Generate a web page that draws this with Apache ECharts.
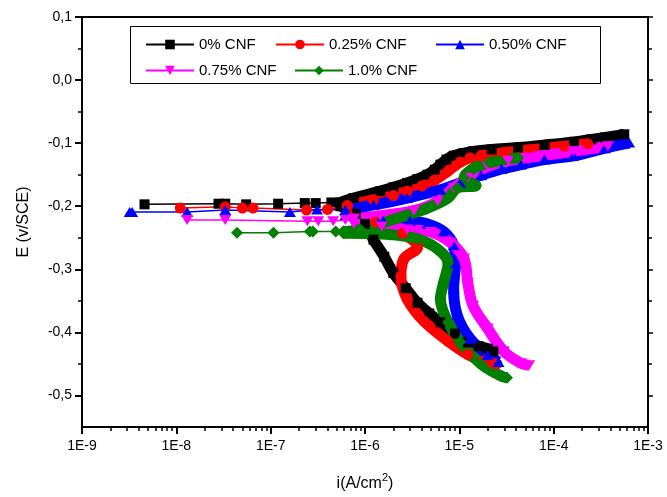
<!DOCTYPE html>
<html>
<head>
<meta charset="utf-8">
<script src="https://cdn.jsdelivr.net/npm/echarts@6/dist/echarts.min.js"></script>
<style>html,body{margin:0;padding:0;background:#fff;}#c{width:667px;height:497px;}</style>
</head>
<body>
<div id="c"></div>
<script>
// ---- data: [current density (A/cm2), potential (V/SCE)] ----
const seriesNames = ['0% CNF', '0.25% CNF', '0.50% CNF', '0.75% CNF', '1.0% CNF'];
const seriesColors = ['#000000', '#ff0000', '#0000ff', '#ff00ff', '#008000'];

const cnf0Flat = [[4.6e-9,-0.197],[2.8e-8,-0.196],[3.3e-8,-0.196],[5.5e-8,-0.197],[1.2e-7,-0.196],[2.3e-7,-0.195],[3.0e-7,-0.195],[4.4e-7,-0.194],[5.5e-7,-0.194]];
const cnf0Anodic = [[5.5e-7,-0.194],[7.6e-7,-0.187],[1.45e-6,-0.176],[2.0e-6,-0.17],[2.8e-6,-0.163],[3.6e-6,-0.157],[4.6e-6,-0.15],[5.5e-6,-0.142],[6.3e-6,-0.134],[7.3e-6,-0.126],[8.7e-6,-0.12],[1.1e-5,-0.116],[1.4e-5,-0.113],[2.2e-5,-0.11],[4.2e-5,-0.107],[8e-5,-0.103],[1.64e-4,-0.098],[2.5e-4,-0.094],[3.5e-4,-0.091],[5.6e-4,-0.086]];
const cnf0Cathodic = [[5.5e-7,-0.2],[8e-7,-0.212],[1.0e-6,-0.228],[1.23e-6,-0.253],[1.6e-6,-0.28],[2.0e-6,-0.306],[2.7e-6,-0.33],[3.6e-6,-0.353],[4.8e-6,-0.37],[6.3e-6,-0.384],[9e-6,-0.402],[1.23e-5,-0.416],[1.6e-5,-0.422],[2.0e-5,-0.426],[2.3e-5,-0.43]];

const cnf025Flat = [[1.1e-8,-0.203],[3.3e-8,-0.201],[5.0e-8,-0.203],[6.5e-8,-0.203],[2.4e-7,-0.206],[4.0e-7,-0.205],[6.5e-7,-0.2]];
const cnf025Anodic = [[6.5e-7,-0.199],[1.23e-6,-0.19],[2.0e-6,-0.183],[2.8e-6,-0.176],[4.0e-6,-0.168],[5.4e-6,-0.159],[7.6e-6,-0.144],[1.02e-5,-0.13],[1.3e-5,-0.123],[1.7e-5,-0.12],[3.0e-5,-0.115],[5.4e-5,-0.111],[1.3e-4,-0.105],[2.3e-4,-0.101]];
const cnf025Cathodic = [[6.5e-7,-0.212],[1.3e-6,-0.225],[2.5e-6,-0.243],[3.6e-6,-0.265],[2.6e-6,-0.283],[2.4e-6,-0.311],[2.8e-6,-0.347],[4.2e-6,-0.382],[7.6e-6,-0.414],[1.23e-5,-0.435],[1.8e-5,-0.445],[2.3e-5,-0.449],[2.5e-5,-0.45]];

const cnf050Flat = [[3.2e-9,-0.209],[3.4e-9,-0.209],[1.3e-8,-0.209],[3.3e-8,-0.206],[1.6e-7,-0.209],[3.1e-7,-0.205],[6.2e-7,-0.206]];
const cnf050Anodic = [[6.2e-7,-0.206],[1.23e-6,-0.198],[2.8e-6,-0.187],[6.3e-6,-0.174],[1.02e-5,-0.163],[1.7e-5,-0.151],[2.8e-5,-0.141],[4.5e-5,-0.134],[8e-5,-0.126],[1.62e-4,-0.12],[3.5e-4,-0.108],[5.6e-4,-0.101],[6.3e-4,-0.099]];
const cnf050Cathodic = [[6.2e-7,-0.214],[1.5e-6,-0.219],[3.0e-6,-0.223],[4.6e-6,-0.228],[6.8e-6,-0.24],[8.7e-6,-0.262],[9.1e-6,-0.29],[8.7e-6,-0.331],[9.5e-6,-0.373],[1.3e-5,-0.41],[2.0e-5,-0.436],[2.6e-5,-0.447]];

const cnf075Flat = [[1.3e-8,-0.222],[3.3e-8,-0.222],[2.45e-7,-0.224],[3.2e-7,-0.224],[4.6e-7,-0.224],[6.2e-7,-0.222],[7.6e-7,-0.22]];
const cnf075Anodic = [[7.6e-7,-0.22],[1.45e-6,-0.215],[3.3e-6,-0.207],[5.9e-6,-0.192],[8.7e-6,-0.171],[1.23e-5,-0.155],[2.0e-5,-0.137],[3.3e-5,-0.128],[5.4e-5,-0.123],[1.62e-4,-0.113],[3.76e-4,-0.105]];
const cnf075Cathodic = [[7.6e-7,-0.228],[1.5e-6,-0.232],[2.8e-6,-0.237],[5.0e-6,-0.241],[8.1e-6,-0.258],[1.12e-5,-0.283],[1.23e-5,-0.322],[1.4e-5,-0.358],[2.0e-5,-0.394],[2.95e-5,-0.43],[4.5e-5,-0.449],[5.5e-5,-0.452]];

const cnf10Flat = [[4.4e-8,-0.242],[1.07e-7,-0.242],[2.6e-7,-0.24],[2.8e-7,-0.24],[4.9e-7,-0.24],[5.9e-7,-0.24]];
const cnf10Anodic = [[5.9e-7,-0.24],[8.9e-7,-0.237],[2.2e-6,-0.219],[4.6e-6,-0.203],[7.6e-6,-0.187],[9.5e-6,-0.171],[1.5e-5,-0.167],[1.12e-5,-0.155],[1.4e-5,-0.14],[2.1e-5,-0.131],[4.2e-5,-0.123]];
const cnf10Cathodic = [[5.9e-7,-0.243],[1.86e-6,-0.245],[3.6e-6,-0.252],[5.9e-6,-0.268],[7.6e-6,-0.29],[6.8e-6,-0.322],[6.3e-6,-0.347],[7.6e-6,-0.384],[1.02e-5,-0.415],[1.7e-5,-0.45],[2.75e-5,-0.469],[3.2e-5,-0.472]];

// ---- axis ticks ----
const xMin = 1e-9, xMax = 1e-3;
const xDecades = [-9, -8, -7, -6, -5, -4, -3];
const yMin = -0.55, yMax = 0.1;
const yMajorTicks = [-0.5, -0.4, -0.3, -0.2, -0.1, 0.0, 0.1];
const yMinorTicks = [-0.45, -0.35, -0.25, -0.15, -0.05, 0.05];

const groups = [
  [cnf0Flat, cnf0Cathodic, cnf0Anodic],
  [cnf025Flat, cnf025Cathodic, cnf025Anodic],
  [cnf050Flat, cnf050Cathodic, cnf050Anodic],
  [cnf075Flat, cnf075Cathodic, cnf075Anodic],
  [cnf10Flat, cnf10Cathodic, cnf10Anodic]
];
const symbols = ['rect', 'circle', 'triangle', 'triangle', 'diamond'];
const symbolRot = [0, 0, 0, 180, 0];
const symSize = [10, 11, [12, 10], [12, 10], [12, 12]];

const xMinorTicks = [];
for (let d = xDecades[0]; d < xDecades[xDecades.length - 1]; d++) for (let k = 2; k <= 9; k++) xMinorTicks.push(d + Math.log10(k));

const FONT = 'Liberation Sans, Arial, sans-serif';

const series = [];
groups.forEach((g, gi) => {
  g.forEach((arr, k) => {
    const band = k > 0;
    series.push({
      name: seriesNames[gi],
      type: 'line',
      xAxisIndex: 0,
      yAxisIndex: 0,
      data: arr,
      symbol: symbols[gi],
      symbolRotate: symbolRot[gi],
      symbolSize: symSize[gi],
      showSymbol: true,
      smooth: band ? 0.35 : false,
      lineStyle: { color: seriesColors[gi], width: band ? 11 : 1.5 },
      itemStyle: { color: seriesColors[gi] },
      emphasis: { disabled: true },
      animation: false,
      clip: true
    });
  });
});

const legendPos = [[145, 37], [275, 37], [435, 37], [145, 63], [294, 63]];
const legends = seriesNames.map((n, i) => ({
  data: [n],
  left: legendPos[i][0],
  top: legendPos[i][1],
  padding: 0,
  itemWidth: 48,
  itemHeight: 12,
  itemGap: 0,
  selectedMode: false,
  textStyle: { fontSize: 15, color: '#000', fontFamily: FONT }
}));

const chart = echarts.init(document.getElementById('c'), null, { renderer: 'canvas' });
chart.setOption({
  backgroundColor: '#fff',
  animation: false,
  grid: { left: 82, right: 19, top: 17, bottom: 64, containLabel: false },
  legend: legends,
  graphic: [{
    type: 'rect', left: 128, top: 24,
    shape: { width: 470, height: 57 },
    style: { fill: 'none', stroke: '#000', lineWidth: 1 }, z: 100
  }],
  xAxis: [
    {
      type: 'log', logBase: 10, min: xMin, max: xMax, interval: 1,
      position: 'bottom',
      name: '{a|i(A/cm}{s|2}{a|)}',
      nameLocation: 'middle', nameGap: 45,
      nameTextStyle: {
        rich: {
          a: { fontSize: 16, fontFamily: FONT, color: '#000', verticalAlign: 'bottom', lineHeight: 20 },
          s: { fontSize: 11, fontFamily: FONT, color: '#000', verticalAlign: 'top', lineHeight: 20, padding: [0, 0, 6, 0] }
        }
      },
      axisLine: { show: true, onZero: false, lineStyle: { color: '#000', width: 2 } },
      axisTick: { show: true, inside: false, length: 7, lineStyle: { color: '#000', width: 2 } },
      axisLabel: {
        show: true, margin: 12, fontSize: 14, color: '#000', fontFamily: FONT,
        formatter: v => '1E' + Math.round(Math.log10(v))
      },
      splitLine: { show: false }, minorTick: { show: false }
    },
    {
      type: 'value', min: xDecades[0], max: xDecades[xDecades.length - 1], position: 'bottom',
      axisLine: { show: false, onZero: false },
      axisTick: { show: true, inside: false, length: 4, customValues: xMinorTicks, lineStyle: { color: '#000', width: 1.5 } },
      axisLabel: { show: false }, splitLine: { show: false }
    },
    {
      type: 'value', min: 0, max: 1, position: 'top',
      axisLine: { show: true, onZero: false, lineStyle: { color: '#000', width: 2 } },
      axisTick: { show: false }, axisLabel: { show: false }, splitLine: { show: false }
    }
  ],
  yAxis: [
    {
      type: 'value', min: yMin, max: yMax, position: 'left',
      name: 'E (v/SCE)', nameLocation: 'middle', nameGap: 50,
      nameTextStyle: { fontSize: 16, color: '#000', fontFamily: FONT },
      axisLine: { show: true, onZero: false, lineStyle: { color: '#000', width: 2 } },
      axisTick: { show: true, inside: false, length: 7, customValues: yMajorTicks, lineStyle: { color: '#000', width: 2 } },
      axisLabel: {
        show: true, margin: 10, fontSize: 14, color: '#000', fontFamily: FONT,
        customValues: yMajorTicks,
        formatter: v => v.toFixed(1).replace('.', ',')
      },
      splitLine: { show: false }
    },
    {
      type: 'value', min: yMin, max: yMax, position: 'left',
      axisLine: { show: false, onZero: false },
      axisTick: { show: true, inside: false, length: 4, customValues: yMinorTicks, lineStyle: { color: '#000', width: 1.5 } },
      axisLabel: { show: false }, splitLine: { show: false }
    },
    {
      type: 'value', min: yMin, max: yMax, position: 'right',
      axisLine: { show: true, onZero: false, lineStyle: { color: '#000', width: 2 } },
      axisTick: { show: true, inside: false, length: 5, customValues: yMajorTicks, lineStyle: { color: '#000', width: 1.5 } },
      axisLabel: { show: false }, splitLine: { show: false }
    },
    {
      type: 'value', min: yMin, max: yMax, position: 'right',
      axisLine: { show: false, onZero: false },
      axisTick: { show: true, inside: false, length: 4, customValues: yMinorTicks, lineStyle: { color: '#000', width: 1.5 } },
      axisLabel: { show: false }, splitLine: { show: false }
    }
  ],
  series: series
});
</script>
</body>
</html>
